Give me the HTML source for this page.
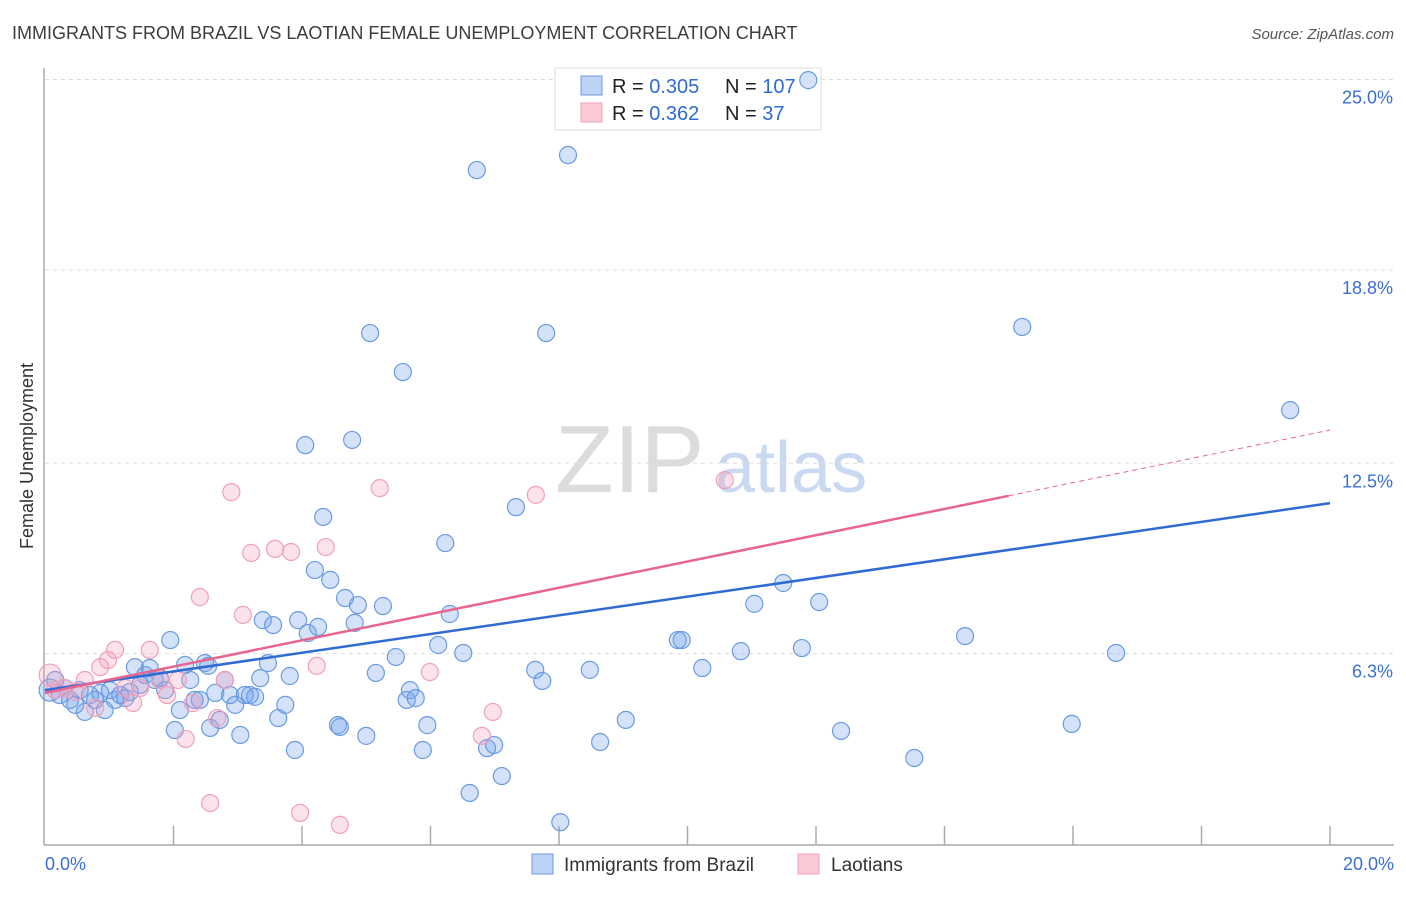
<!DOCTYPE html>
<html><head><meta charset="utf-8"><style>
body{margin:0;background:#fff;font-family:"Liberation Sans",sans-serif;}
svg text{font-family:"Liberation Sans",sans-serif;}
</style></head><body>
<svg id="chart" width="1406" height="892" xmlns="http://www.w3.org/2000/svg">
<text x="12" y="39" font-size="18" fill="#3c3c3c">IMMIGRANTS FROM BRAZIL VS LAOTIAN FEMALE UNEMPLOYMENT CORRELATION CHART</text>
<text x="1394" y="39" font-size="15" fill="#555" text-anchor="end" font-style="italic">Source: ZipAtlas.com</text>
<text x="555" y="492" font-size="96" fill="#dcdcdc" font-family="Liberation Serif, serif">ZIP</text>
<text x="715" y="492" font-size="72" fill="#c9d9f2">atlas</text>
<text transform="translate(33,456) rotate(-90)" font-size="18" fill="#333" text-anchor="middle">Female Unemployment</text>
<g id="grid"></g><g id="axes"></g>
<g>
<rect x="555" y="68" width="266" height="62" fill="#fff" stroke="#ddd"/>
<rect x="581" y="76" width="21" height="19" fill="#bcd3f5" stroke="#6a9be0"/>
<rect x="581" y="103" width="21" height="19" fill="#fbc8d6" stroke="#f0a0b8"/>
<text x="612" y="93" font-size="20" fill="#222">R = <tspan fill="#2f6bd3">0.305</tspan></text>
<text x="725" y="93" font-size="20" fill="#222">N = <tspan fill="#2f6bd3">107</tspan></text>
<text x="612" y="120" font-size="20" fill="#222">R = <tspan fill="#2f6bd3"> 0.362</tspan></text>
<text x="725" y="120" font-size="20" fill="#222">N = <tspan fill="#2f6bd3">  37</tspan></text>
</g>
<g id="pts"></g><g id="lines"></g>
<g>
<rect x="532" y="854" width="21" height="20" fill="#bcd3f5" stroke="#6a9be0"/>
<text x="564" y="871" font-size="19" fill="#333">Immigrants from Brazil</text>
<rect x="798" y="854" width="21" height="20" fill="#fbc8d6" stroke="#f0a0b8"/>
<text x="831" y="871" font-size="19" fill="#333">Laotians</text>
</g>
</svg>
<script>
const yTicks=[6.3,12.5,18.8,25.0];
const yTickLabels=["6.3%","12.5%","18.8%","25.0%"];
const xEndLabels=["0.0%","20.0%"];
const brazilX=[0.08,0.16,0.23,0.31,0.39,0.47,0.54,0.62,0.70,0.78,0.86,0.93,1.01,1.09,1.17,1.25,1.32,1.40,1.48,1.56,1.63,1.71,1.79,1.87,1.95,2.02,2.10,2.18,2.26,2.33,2.41,2.49,2.54,2.57,2.65,2.72,2.80,2.88,2.96,3.04,3.11,3.19,3.27,3.35,3.39,3.47,3.55,3.63,3.74,3.81,3.89,3.94,4.05,4.09,4.20,4.25,4.33,4.44,4.56,4.59,4.67,4.78,4.82,4.87,5.00,5.06,5.15,5.26,5.46,5.57,5.63,5.68,5.77,5.88,5.95,6.12,6.23,6.30,6.51,6.61,6.72,6.88,6.99,7.11,7.33,7.63,7.74,7.80,8.02,8.14,8.48,8.64,9.04,9.85,9.91,10.23,10.83,11.04,11.49,11.78,11.88,12.05,12.39,13.53,14.32,15.21,15.98,16.67,19.38];
const brazilY=[5.11,5.44,4.95,5.18,4.79,4.63,5.11,4.40,4.95,4.79,5.02,4.46,5.11,4.79,4.95,4.85,5.05,5.86,5.28,5.60,5.83,5.44,5.50,5.11,6.74,3.81,4.46,5.93,5.44,4.79,4.79,5.99,5.90,3.88,5.02,4.14,5.44,4.95,4.63,3.65,4.95,4.95,4.89,5.50,7.39,5.99,7.23,4.20,4.63,5.57,3.16,7.39,13.09,6.97,9.02,7.17,10.75,8.70,3.97,3.91,8.11,13.26,7.30,7.88,3.62,16.74,5.67,7.85,6.19,15.47,4.79,5.11,4.85,3.16,3.97,6.58,9.90,7.59,6.32,1.76,22.05,3.22,3.32,2.31,11.07,5.77,5.41,16.74,0.81,22.54,5.77,3.42,4.14,6.74,6.74,5.83,6.38,7.92,8.60,6.48,24.98,7.98,3.78,2.90,6.87,16.94,4.01,6.32,14.23];
const laoX=[0.08,0.16,0.31,0.47,0.62,0.78,0.86,0.98,1.09,1.25,1.37,1.48,1.63,1.79,1.90,2.07,2.19,2.30,2.41,2.57,2.68,2.80,2.90,3.08,3.21,3.58,3.83,3.97,4.23,4.37,4.59,5.21,5.99,6.80,6.97,7.64,10.58];
const laoY=[5.60,5.11,5.18,5.05,5.44,4.53,5.86,6.09,6.42,5.18,4.69,5.18,6.42,5.44,4.95,5.44,3.52,4.69,8.14,1.43,4.20,5.44,11.56,7.56,9.58,9.71,9.61,1.11,5.90,9.77,0.72,11.69,5.70,3.62,4.40,11.47,11.95];
const brazilTrend=[5.11,11.20];
const laoTrend=[5.02,13.58];
const laoSolidEnd=15;
const NS="http://www.w3.org/2000/svg";
const X=v=>45+v*64.25, Y=v=>847-v*30.7;
function mk(tag,attrs,parent){const e=document.createElementNS(NS,tag);for(const k in attrs)e.setAttribute(k,attrs[k]);document.getElementById(parent).appendChild(e);return e;}
yTicks.forEach((t,i)=>{
 const g=mk('line',{x1:45,x2:1394,y1:Y(t),y2:Y(t),stroke:'#ddd','stroke-dasharray':'4,4'},'grid');
 
 
 const tx=mk('text',{x:1393,y:Y(t)+24,'font-size':18,fill:'#3a6fd6','text-anchor':'end'},'grid');
 tx.textContent=yTickLabels[i];
 
 
});
const ax=mk('line',{x1:44,x2:44,y1:68,y2:845,stroke:'#aaa','stroke-width':1.5},'axes');


const bx=mk('line',{x1:44,x2:1394,y1:845,y2:845,stroke:'#aaa','stroke-width':1.5},'axes');


for(let i=1;i<=10;i++){const t=mk('line',{x1:X(i*2),x2:X(i*2),y1:826,y2:845,stroke:'#aaa','stroke-width':1.5},'axes');
 
 }
[[0,'start',45],[20,'end',1394]].forEach((d,i)=>{const t=mk('text',{x:d[2],y:870,'font-size':18,fill:'#3a6fd6','text-anchor':d[1]},'axes');t.textContent=xEndLabels[i];
 
 });
brazilX.forEach((x,i)=>{const c=mk('circle',{cx:X(x),cy:Y(brazilY[i]),r:i===0?11:8.5,fill:'rgba(110,160,235,0.3)',stroke:'#6a9be0','stroke-width':1.2},'pts');
 
 });
laoX.forEach((x,i)=>{const c=mk('circle',{cx:X(x),cy:Y(laoY[i]),r:i===0?11:8.5,fill:'rgba(245,160,190,0.3)',stroke:'#f0a0b8','stroke-width':1.2},'pts');
 
 });
const l1=mk('line',{x1:X(0),y1:Y(brazilTrend[0]),x2:X(20),y2:Y(brazilTrend[1]),stroke:'#2f6bd3','stroke-width':2.5},'lines');


const ly=x=>laoTrend[0]+(laoTrend[1]-laoTrend[0])*x/20;
const l2=mk('line',{x1:X(0),y1:Y(ly(0)),x2:X(laoSolidEnd),y2:Y(ly(laoSolidEnd)),stroke:'#e8658f','stroke-width':2.5},'lines');


const l3=mk('line',{x1:X(laoSolidEnd),y1:Y(ly(laoSolidEnd)),x2:X(20),y2:Y(ly(20)),stroke:'#e8658f','stroke-width':1,'stroke-dasharray':'5,4'},'lines');


</script>
</body></html>
